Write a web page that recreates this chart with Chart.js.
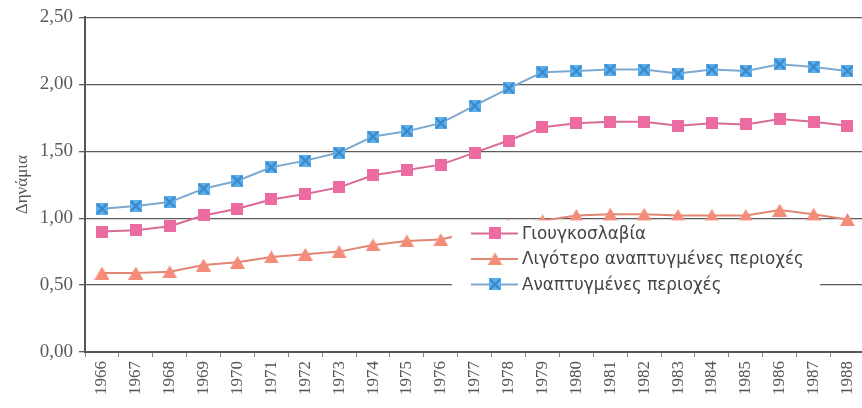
<!DOCTYPE html>
<html>
<head>
<meta charset="utf-8">
<script src="https://cdn.jsdelivr.net/npm/chart.js@4.4.1/dist/chart.umd.min.js"></script>
<style>
  html, body { margin: 0; padding: 0; background: #fff; overflow: hidden; }
  #wrap { width: 872px; height: 408px; }
</style>
</head>
<body>
<div id="wrap"><canvas id="chart" width="872" height="408"></canvas></div>
<script>
'use strict';

// data
const years = ['1966', '1967', '1968', '1969', '1970', '1971', '1972', '1973', '1974', '1975', '1976',
    '1977', '1978', '1979', '1980', '1981', '1982', '1983', '1984', '1985', '1986', '1987', '1988'];
const yugoslavia = [0.90, 0.91, 0.94, 1.02, 1.07, 1.14, 1.18, 1.23, 1.32, 1.36, 1.40,
    1.49, 1.58, 1.68, 1.71, 1.72, 1.72, 1.69, 1.71, 1.70, 1.74, 1.72, 1.69];
const lessDeveloped = [0.59, 0.59, 0.60, 0.65, 0.67, 0.71, 0.73, 0.75, 0.80, 0.83, 0.84,
    0.90, 0.95, 0.98, 1.02, 1.03, 1.03, 1.02, 1.02, 1.02, 1.06, 1.03, 0.99];
const developed = [1.07, 1.09, 1.12, 1.22, 1.28, 1.38, 1.43, 1.49, 1.61, 1.65, 1.71,
    1.84, 1.97, 2.09, 2.10, 2.11, 2.11, 2.08, 2.11, 2.10, 2.15, 2.13, 2.10];
const seriesLabels = ['Γιουγκοσλαβία', 'Λιγότερο αναπτυγμένες περιοχές', 'Αναπτυγμένες περιοχές'];
const yTicks = [0, 0.5, 1, 1.5, 2, 2.5];

window.makeMarker = function (kind, fill, accent) {
    let c = document.createElement('canvas');
    let w = kind === 'triangle' ? 15 : 12;
    let h = kind === 'triangle' ? 13 : 12;
    c.width = w;
    c.height = h;
    let g = c.getContext('2d');
    g.fillStyle = fill;
    if (kind === 'triangle') {
        g.beginPath();
        g.moveTo(w / 2, 0);
        g.lineTo(w, h);
        g.lineTo(0, h);
        g.closePath();
        g.fill();
    } else {
        g.fillRect(0, 0, w, h);
        if (kind === 'cross') {
            g.strokeStyle = accent;
            g.lineWidth = 2.2;
            g.beginPath();
            g.moveTo(1, 1);
            g.lineTo(w - 1, h - 1);
            g.moveTo(w - 1, 1);
            g.lineTo(1, h - 1);
            g.stroke();
        }
    }
    return c;
};

const pinkMarker = makeMarker('square', '#ec6ba0');
const orangeMarker = makeMarker('triangle', '#f38c78');
const blueMarker = makeMarker('cross', '#5cb0ec', '#3a87c8');

// legend sits on top of the plot, white box
const overlayLegend = {
    id: 'overlayLegend',
    afterDraw: function (chart) {
        let ctx = chart.ctx;
        let area = chart.chartArea;
        let x0 = area.left + 367;
        let y0 = area.top + 203;
        ctx.save();
        ctx.fillStyle = '#ffffff';
        ctx.fillRect(x0, y0, 368, 82);
        ctx.font = '16.8px "DejaVu Sans"';
        ctx.textBaseline = 'middle';
        chart.data.datasets.forEach(function (ds, i) {
            let y = y0 + 13 + i * 25.5;
            ctx.strokeStyle = ds.borderColor;
            ctx.lineWidth = 2;
            ctx.beginPath();
            ctx.moveTo(x0 + 19, y);
            ctx.lineTo(x0 + 66, y);
            ctx.stroke();
            let m = ds.pointStyle;
            ctx.drawImage(m, x0 + 43 - m.width / 2, y - m.height / 2);
            ctx.fillStyle = '#444';
            ctx.fillText(ds.label, x0 + 70, y + 1);
        });
        ctx.restore();
    },
};

let ctx = document.getElementById('chart').getContext('2d');
window.myChart = new Chart(ctx, {
    type: 'line',
    data: {
        labels: years,
        datasets: [
            {
                label: seriesLabels[0],
                data: yugoslavia,
                borderColor: '#d96b97',
                borderWidth: 2,
                pointStyle: pinkMarker,
            },
            {
                label: seriesLabels[1],
                data: lessDeveloped,
                borderColor: '#e08672',
                borderWidth: 2,
                pointStyle: orangeMarker,
            },
            {
                label: seriesLabels[2],
                data: developed,
                borderColor: '#7fa8cf',
                borderWidth: 2,
                pointStyle: blueMarker,
            },
        ],
    },
    options: {
        responsive: false,
        animation: false,
        layout: { padding: { top: 17, right: 0, bottom: 0, left: 0 } },
        plugins: {
            legend: { display: false },
            tooltip: { enabled: false },
        },
        scales: {
            x: {
                type: 'category',
                offset: true,
                grid: {
                    offset: true,
                    drawOnChartArea: false,
                    tickLength: 5,
                    color: '#888',
                },
                border: { color: '#555', width: 2 },
                ticks: {
                    color: '#555',
                    font: { family: '"Liberation Serif"', size: 17 },
                    minRotation: 90,
                    maxRotation: 90,
                    autoSkip: false,
                    padding: 4,
                },
                afterFit: function (scale) {
                    scale.height = 56;
                },
            },
            y: {
                min: 0,
                max: 2.5,
                afterBuildTicks: function (scale) {
                    scale.ticks = yTicks.map(v => ({ value: v }));
                },
                grid: {
                    color: '#5c5c5c',
                    lineWidth: 1.3,
                    tickLength: 6,
                },
                border: { color: '#555', width: 2 },
                ticks: {
                    color: '#5a5a5a',
                    font: { family: '"Liberation Serif"', size: 19 },
                    padding: 6,
                    callback: function (v) {
                        return Number(v).toFixed(2).replace('.', ',');
                    },
                },
                title: {
                    display: true,
                    text: 'Δηνάμια',
                    color: '#555',
                    font: { family: '"Liberation Serif"', size: 17 },
                    padding: { top: 12, bottom: 0 },
                },
                afterFit: function (scale) {
                    scale.width = 85;
                },
            },
        },
    },
    plugins: [overlayLegend],
});
</script>
</body>
</html>
